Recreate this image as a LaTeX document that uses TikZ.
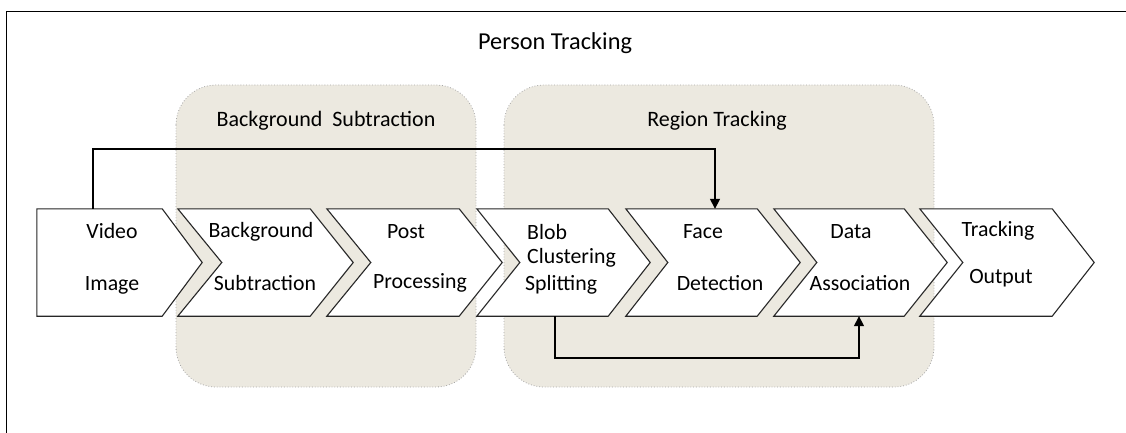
\documentclass[tikz,border=0pt]{standalone}
\usepackage{fontspec}
\setmainfont{Carlito}
\usetikzlibrary{arrows.meta}
\definecolor{groupfill}{HTML}{ECE9E0}
\definecolor{groupline}{HTML}{A8A8A8}
\tikzset{
  group/.style={fill=groupfill, draw=groupline, line width=0.8pt, dotted, rounded corners=40pt},
  body/.style={draw=none, minimum height=107pt, inner sep=0pt},
  chevline/.style={draw=black!85, line width=1.1pt, fill=white, line join=miter},
  flow/.style={draw=black, line width=1.6pt, -{Triangle[length=10pt,width=10pt]}},
  lbl/.style={font=\fontsize{21.8}{24}\selectfont, inner sep=0pt, anchor=center},
  title/.style={font=\fontsize{22}{26}\selectfont, inner sep=0pt, anchor=center},
}
% a chevron drawn round a named body node; #1 = name, #2 = notch depth, #3 = tip depth
\newcommand{\chevron}[3]{%
  \path[chevline] (#1.north west) -- (#1.north east) -- ([xshift=#3]#1.east)
    -- (#1.south east) -- (#1.south west) -- ([xshift=#2]#1.west) -- cycle;}
\begin{document}
\begin{tikzpicture}[x=1pt, y=-1pt]
\useasboundingbox (0,0) rectangle (1126,433);
% outer frame (top and left edges)
\draw[line width=1pt] (6,433) -- (6,12) -- (1126,12);
\node[title, font=\fontsize{24.3}{28}\selectfont] (pt) at (555,43) {Person Tracking};

% groups
\path[group] (176,85) rectangle (476,387);
\path[group] (504,85) rectangle (934,387);
\node[title] (gbs) at (326,121) {Background\ \ Subtraction};
\node[title] (grt) at (717,121) {Region Tracking};

% body nodes of the pipeline steps
\node[body, minimum width=125pt] (vid) at (99.5,262.5) {};
\node[body, minimum width=132pt] (bgs) at (244,262.5) {};
\node[body, minimum width=132pt] (pp)  at (393,262.5) {};
\node[body, minimum width=131pt] (blob) at (542.5,262.5) {};
\node[body, minimum width=131pt] (face) at (691.5,262.5) {};
\node[body, minimum width=130pt] (data) at (839,262.5) {};
\node[body, minimum width=132pt] (trk) at (986,262.5) {};

\chevron{vid}{0pt}{40pt}
\chevron{bgs}{44pt}{43pt}
\chevron{pp}{44pt}{43pt}
\chevron{blob}{43pt}{42pt}
\chevron{face}{42pt}{43pt}
\chevron{data}{43pt}{43pt}
\chevron{trk}{43pt}{42pt}

% step labels
\node[lbl] (t1a) at (112,231) {Video};
\node[lbl] (t1b) at (112,285) {Image};
\node[lbl] (t2a) at (261,232) {Background};
\node[lbl] (t2b) at (265,283) {Subtraction};
\node[lbl] (t3a) at (406,232) {Post};
\node[lbl] (t3b) at (420,283) {Processing};
\node[lbl, anchor=west] (t4a) at (527,232) {Blob};
\node[lbl, anchor=west] (t4b) at (527,258) {Clustering};
\node[lbl, anchor=west] (t4c) at (525,285) {Splitting};
\node[lbl] (t5a) at (703,232) {Face};
\node[lbl] (t5b) at (720,283) {Detection};
\node[lbl] (t6a) at (851,232) {Data};
\node[lbl] (t6b) at (860,283) {Association};
\node[lbl] (t7a) at (998,231) {Tracking};
\node[lbl] (t7b) at (1001,278) {Output};

% connectors
\draw[flow] ([xshift=-6.5pt]vid.north) -- ++(0,-60) -| ([xshift=23.5pt]face.north);
\draw[flow] ([xshift=12.5pt]blob.south) -- ++(0,42) -| ([xshift=20pt]data.south);
\end{tikzpicture}
\end{document}
